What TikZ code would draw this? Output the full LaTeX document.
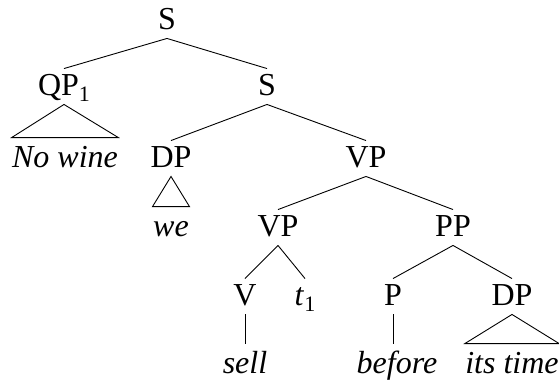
\documentclass[tikz,border=0pt]{standalone}
\usepackage{fontspec}
\setmainfont{Liberation Serif}
\newcommand{\sbs}[1]{\raisebox{-6pt}{\fontsize{22}{24}\selectfont\upshape #1}}
\begin{document}
\begin{tikzpicture}[x=1pt,y=-1pt,line width=0.9pt,
  cat/.style={anchor=base,font=\fontsize{32}{36}\selectfont,inner xsep=0pt,inner ysep=0pt,
    text height=26pt,text depth=9pt},
  leaf/.style={anchor=base,font=\fontsize{32}{36}\selectfont\itshape,inner xsep=0pt,inner ysep=0pt,
    text height=29pt,text depth=5pt}]
\useasboundingbox (0,0) rectangle (559,383);
\node[cat] (S0) at (167,29) {S};
\node[cat] (QP) at (64,95) {QP\sbs{1}};
\node[cat] (S1) at (267,95) {S};
\node[leaf,minimum width=105pt] (nw) at (65,167) {No wine};
\node[cat] (DP1) at (171,167) {DP};
\node[leaf,minimum width=36pt] (we) at (171,236) {we};
\node[cat] (VP1) at (366,167) {VP};
\node[cat] (VP2) at (278,236) {VP};
\node[cat] (PP) at (453,236) {PP};
\node[cat] (V) at (245,305) {V};
\node[cat] (t) at (305,305) {\textit{t}\sbs{1}};
\node[cat] (P) at (393,305) {P};
\node[cat] (DP2) at (512,305) {DP};
\node[leaf] (sell) at (245,373) {sell};
\node[leaf] (before) at (397,373) {before};
\node[leaf,minimum width=93pt] (its) at (512,373) {its time};
\draw (S0.south) -- (QP.north);
\draw (S0.south) -- (S1.north);
\draw (QP.south) -- (nw.north west) -- (nw.north east) -- cycle;
\draw (S1.south) -- (DP1.north);
\draw (S1.south) -- (VP1.north);
\draw (DP1.south) -- (we.north west) -- (we.north east) -- cycle;
\draw (VP1.south) -- (VP2.north);
\draw (VP1.south) -- (PP.north);
\draw (VP2.south) -- (V.north);
\draw (VP2.south) -- (t.north);
\draw (PP.south) -- (P.north);
\draw (PP.south) -- (DP2.north);
\draw (V.south) -- (sell.north);
\draw (P.south) -- (P.south |- before.north);
\draw (DP2.south) -- (its.north west) -- (its.north east) -- cycle;
\end{tikzpicture}
\end{document}
